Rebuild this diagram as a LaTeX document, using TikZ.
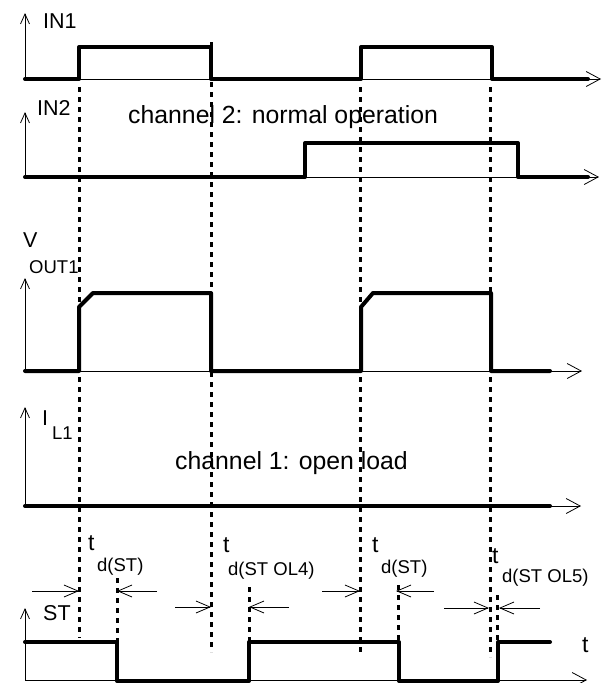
\documentclass[tikz,border=0pt]{standalone}
\usepackage{fontspec}
\setmainfont{Liberation Sans}
\usetikzlibrary{arrows.meta}
\begin{document}
\begin{tikzpicture}[x=1pt,y=-1pt,
  sig/.style={line width=4pt, line join=round, line cap=round},
  ax/.style={line width=0.8pt, -{Straight Barb[length=14pt,width=15pt]}},
  vax/.style={line width=0.8pt, -{Straight Barb[length=10pt,width=9pt]}},
  dots/.style={line width=3pt, dash pattern=on 5pt off 5pt},
  tm/.style={line width=0.8pt, -{Straight Barb[length=14pt,width=12pt]}},
  lbl/.style={inner sep=0pt, anchor=base west, font=\fontsize{21.5}{21.5}\selectfont},
  tl/.style={inner sep=0pt, anchor=base west, font=\fontsize{23}{23}\selectfont},
  sub/.style={inner sep=0pt, anchor=base west, font=\fontsize{18.5}{18.5}\selectfont},
  chan/.style={inner sep=0pt, anchor=base west, font=\fontsize{24.8}{24.8}\selectfont}]
\useasboundingbox (0,0) rectangle (608,683);
% dotted time markers
\draw[dots] (79,87) -- (79,638);
\draw[dots] (211,42) -- (211,652);
\draw[dots] (360,87) -- (360,655);
\draw[dots] (490,87) -- (490,657);
\draw[dots] (117,578) -- (117,642);
\draw[dots] (249,587) -- (249,642);
\draw[dots] (398,585) -- (398,642);
\draw[dots] (497,595) -- (497,642);
% axes
\draw[vax] (25,79) -- (25,13);
\draw[ax] (25,79) -- (601,79);
\draw[vax] (25,177) -- (25,112);
\draw[ax] (25,177) -- (599,177);
\draw[vax] (25,371) -- (25,278);
\draw[ax] (25,371) -- (582,371);
\draw[vax] (25,506) -- (25,407);
\draw[ax] (25,506) -- (581,506);
\draw[vax] (25,680) -- (25,608);
\draw[ax] (25,680) -- (587,680);
% signals
\draw[sig] (25,79) -- (79,79) -- (79,47) -- (211,47) -- (211,79) -- (361,79) -- (361,47) -- (492,47) -- (492,79) -- (588,79);
\draw[sig] (25,177) -- (305,177) -- (305,143) -- (518,143) -- (518,177) -- (588,177);
\draw[sig] (25,371) -- (79,371) -- (79,307) -- (93,293) -- (211,293) -- (211,371) -- (361,371) -- (361,307) -- (373,293) -- (491,293) -- (491,371) -- (550,371);
\draw[sig] (25,506) -- (550,506);
\draw[sig] (25,642) -- (117,642) -- (117,681) -- (249,681) -- (249,642) -- (399,642) -- (399,681) -- (498,681) -- (498,642) -- (550,642);
% delay arrows
\draw[tm] (32,591) -- (79,591);
\draw[tm] (157,591) -- (117,591);
\draw[tm] (175,607) -- (211,607);
\draw[tm] (289,607) -- (249,607);
\draw[tm] (322,591) -- (360,591);
\draw[tm] (434,591) -- (396,591);
\draw[tm] (444,608) -- (489,608);
\draw[tm] (540,608) -- (499,608);
% labels
\node[lbl] (in1) at (43,28) {IN1};
\node[lbl] (in2) at (37,115) {IN2};
\node[chan] (ch2) at (128,123) {channel 2: normal operation};
\node[lbl] (v) at (23,247) {V};
\node[sub] (out1) at (29,273) {OUT1};
\node[lbl] (i) at (42,425) {I};
\node[sub] (l1) at (52,439) {L1};
\node[chan] (ch1) at (175,469) {channel 1: open load};
\node[lbl] (st) at (43,620) {ST};
\node[tl] (t1) at (88,550) {t};
\node[sub] (d1) at (97,571) {d(ST)};
\node[tl] (t2) at (223,552) {t};
\node[sub] (d2) at (228,575) {d(ST OL4)};
\node[tl] (t3) at (372,552) {t};
\node[sub] (d3) at (381,573) {d(ST)};
\node[tl] (t4) at (492,563) {t};
\node[sub] (d4) at (502,582) {d(ST OL5)};
\node[tl] (tax) at (582,652) {t};
\end{tikzpicture}
\end{document}
